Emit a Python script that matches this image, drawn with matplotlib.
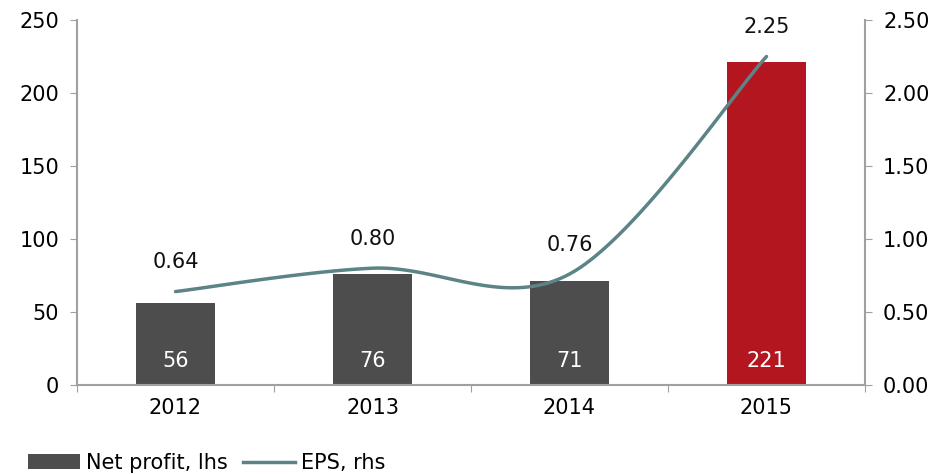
import numpy as np
import matplotlib.pyplot as plt
from matplotlib.patches import Patch
from matplotlib.lines import Line2D

years = ["2012", "2013", "2014", "2015"]
net_profit = [56, 76, 71, 221]
eps = [0.64, 0.80, 0.76, 2.25]

bar_colors = ["#4d4d4d", "#4d4d4d", "#4d4d4d", "#b3161f"]
line_color = "#5c8486"
spine_color = "#a0a0a0"


def smooth_curve(xs, ys, n=40):
    # Catmull-Rom style bezier smoothing through every point
    xs = np.asarray(xs, dtype=float)
    ys = np.asarray(ys, dtype=float)
    pts = np.column_stack([xs, ys])
    out = []
    for i in range(len(pts) - 1):
        p0 = pts[i - 1] if i > 0 else pts[i]
        p1 = pts[i]
        p2 = pts[i + 1]
        p3 = pts[i + 2] if i + 2 < len(pts) else pts[i + 1]
        c1 = p1 + (p2 - p0) / 6.0
        c2 = p2 - (p3 - p1) / 6.0
        t = np.linspace(0, 1, n)[:, None]
        seg = ((1 - t) ** 3) * p1 + 3 * ((1 - t) ** 2) * t * c1 + 3 * (1 - t) * t ** 2 * c2 + t ** 3 * p2
        out.append(seg if i == 0 else seg[1:])
    out = np.vstack(out)
    return out[:, 0], out[:, 1]


plt.rcParams["font.family"] = ["DejaVu Sans"]
fs = 15

fig = plt.figure(figsize=(9.53, 4.74), dpi=100)
ax = fig.add_axes([77 / 953, 1 - 385 / 474, (865 - 77) / 953, (385 - 20) / 474])
ax2 = ax.twinx()

x = np.arange(len(years))
ax.bar(x, net_profit, width=0.4, color=bar_colors, zorder=2)
for xi, v in zip(x, net_profit):
    ax.text(xi, 16.5, str(v), ha="center", va="center", color="white", fontsize=fs, zorder=3)

sx, sy = smooth_curve(x, eps)
ax2.plot(sx, sy, color=line_color, linewidth=2.5, solid_capstyle="round")
for xi, v in zip(x, eps):
    ax2.text(xi, v + 0.2, f"{v:.2f}", ha="center", va="center", fontsize=fs, color="#111111")

ax.set_xlim(-0.5, 3.5)
ax.set_ylim(0, 250)
ax2.set_ylim(0, 2.5)
ax.set_yticks(np.arange(0, 251, 50))
ax2.set_yticks(np.arange(0, 2.51, 0.5))
ax2.set_yticklabels([f"{v:.2f}" for v in np.arange(0, 2.51, 0.5)])

# category boundaries as major ticks, labels on minor ticks
ax.set_xticks(np.arange(-0.5, 3.6, 1.0))
ax.set_xticklabels([])
ax.set_xticks(x, minor=True)
ax.set_xticklabels(years, minor=True)
ax.tick_params(axis="x", which="major", length=5, color=spine_color, direction="out")
ax.tick_params(axis="x", which="minor", length=0, pad=9, labelsize=fs)
ax.tick_params(axis="y", length=5, color=spine_color, direction="out", labelsize=fs, pad=8)
ax2.tick_params(axis="y", length=5, color=spine_color, direction="out", labelsize=fs, pad=8)

for a in (ax, ax2):
    a.spines["top"].set_visible(False)
    for s in ("left", "right", "bottom"):
        a.spines[s].set_color(spine_color)
        a.spines[s].set_linewidth(1.5)
ax.spines["right"].set_visible(False)
ax2.spines["left"].set_visible(False)
ax2.spines["bottom"].set_visible(False)

handles = [
    Patch(facecolor="#4d4d4d", edgecolor="none", label="Net profit, lhs"),
    Line2D([], [], color=line_color, linewidth=2.5, label="EPS, rhs"),
]
fig.legend(handles=handles, loc="center left", bbox_to_anchor=(28 / 953, 1 - 463 / 474),
           ncol=2, frameon=False, fontsize=fs, handlelength=2.5, handletextpad=0.3,
           columnspacing=0.7, borderaxespad=0, borderpad=0)

fig.savefig("out.png", dpi=100)
